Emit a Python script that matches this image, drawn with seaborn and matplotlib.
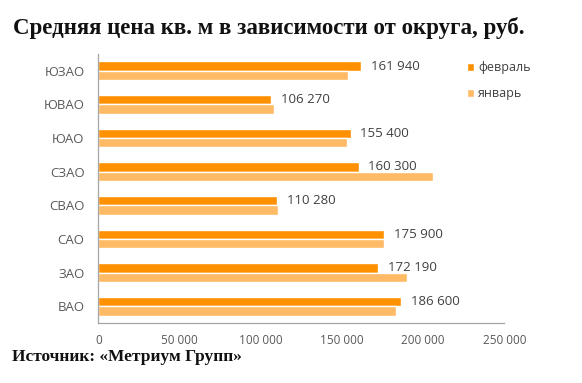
import matplotlib
matplotlib.use("Agg")
import matplotlib.pyplot as plt
import seaborn as sns
import pandas as pd
from matplotlib.ticker import FixedLocator, FuncFormatter

districts = ["ЮЗАО", "ЮВАО", "ЮАО", "СЗАО", "СВАО", "САО", "ЗАО", "ВАО"]
feb = [161940, 106270, 155400, 160300, 110280, 175900, 172190, 186600]
jan = [153700, 108200, 153000, 206400, 110600, 176000, 190200, 183600]
series = ["февраль", "январь"]
xticks = [0, 50000, 100000, 150000, 200000, 250000]
title = "Средняя цена кв. м в зависимости от округа, руб."
source = "Источник: «Метриум Групп»"

df = pd.DataFrame({
    "district": districts * 2,
    "value": feb + jan,
    "series": [series[0]] * len(districts) + [series[1]] * len(districts),
})

sns.set_theme(style="white")
plt.rcParams["font.family"] = ["Open Sans", "DejaVu Sans"]

fig = plt.figure(figsize=(5.82, 3.83), dpi=100)
ax = fig.add_axes([98.3 / 582, 1 - 323 / 383, (504.3 - 98.3) / 582, (323 - 54) / 383])

palette = {"февраль": "#FF9000", "январь": "#FFBA66"}
sns.barplot(data=df, x="value", y="district", hue="series", hue_order=series,
            order=districts, orient="h", palette=palette, width=0.56,
            saturation=1, ax=ax, legend=True)

ax.set_xlim(0, 250000)
ax.set_ylim(len(districts) - 0.5, -0.5)
fmt = lambda v: f"{int(v):,}".replace(",", " ")
ax.xaxis.set_major_locator(FixedLocator(xticks))
ax.xaxis.set_major_formatter(FuncFormatter(lambda v, p: fmt(v)))

for s in ["top", "right"]:
    ax.spines[s].set_visible(False)
for s in ["left", "bottom"]:
    ax.spines[s].set_color("#A6A6A6")
    ax.spines[s].set_linewidth(0.9)

ax.tick_params(axis="x", colors="#A6A6A6", length=4, width=0.9, labelcolor="#595959",
               labelsize=8.5, pad=4)
ax.tick_params(axis="y", which="major", length=0, labelcolor="#595959", labelsize=9.5, pad=10)
ax.set_yticks([i + 0.5 for i in range(-1, len(districts))], minor=True)
ax.tick_params(axis="y", which="minor", length=4, width=0.9, color="#A6A6A6")
ax.set_xlabel("")
ax.set_ylabel("")

ax.bar_label(ax.containers[0], labels=[fmt(v) for v in feb], padding=7,
             fontsize=9.5, color="#404040")

leg = ax.legend(loc="upper left", bbox_to_anchor=(0.88, 1.015), frameon=False,
                fontsize=9, handlelength=0.55, handleheight=0.55, handletextpad=0.35,
                labelspacing=1.05)
for t in leg.get_texts():
    t.set_color("#404040")

fig.text(13 / 582, 1 - 28 / 383, title, fontsize=16.5, fontweight="bold",
         family="Liberation Serif", va="center", ha="left", color="#111111")
fig.text(12 / 582, 1 - 357 / 383, source, fontsize=12.5, fontweight="bold",
         family="Liberation Serif", va="center", ha="left", color="#111111")

fig.savefig("out.png", dpi=100, facecolor="white")
